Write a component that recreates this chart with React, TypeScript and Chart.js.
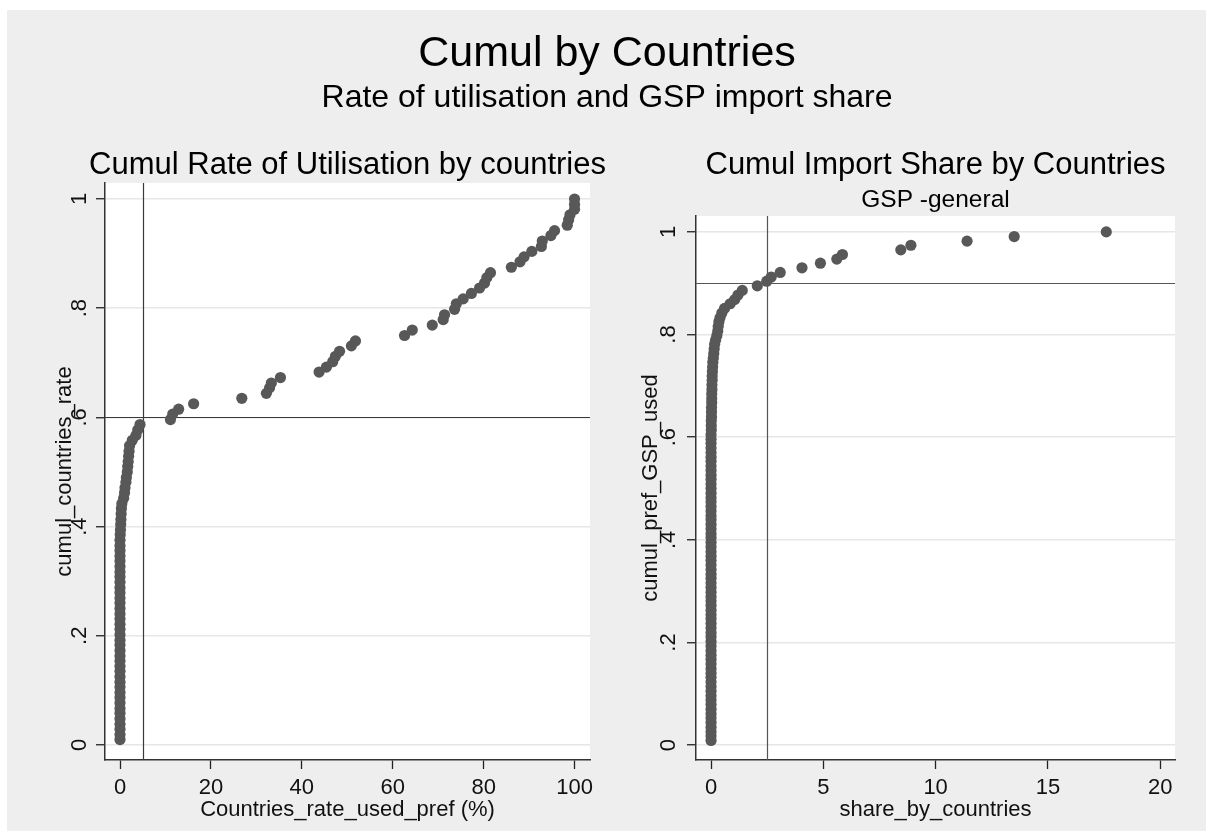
import React, { useEffect, useRef } from 'react';
import { Chart, registerables } from 'chart.js';

Chart.register(...registerables);

const W = 1213;
const H = 839;
const FONT = '"Liberation Sans", Arial, Helvetica, sans-serif';

// Countries sorted by rate of utilisation of preferences (%), with the cumulative share of countries
const rateUsed = [
  0, 0, 0, 0, 0, 0, 0, 0, 0, 0, 0, 0, 0,
  0, 0, 0, 0, 0, 0, 0, 0, 0, 0, 0, 0, 0,
  0, 0, 0, 0, 0, 0, 0, 0, 0, 0, 0, 0, 0,
  0.05, 0.1, 0.15, 0.2, 0.25, 0.3, 0.4,
  0.8, 1.0, 1.1, 1.3, 1.4, 1.6, 1.7, 1.8, 1.9, 2.0, 2.1, 2.7, 3.5, 3.9, 4.4,
  11.1, 11.6, 12.9, 16.2, 26.8, 32.2, 32.9, 33.3, 35.3, 43.8,
  45.4, 46.8, 47.4, 48.3, 50.9, 51.8, 62.6, 64.3, 68.7, 71.1,
  71.4, 73.6, 74.0, 75.5, 77.3, 79.1, 80.2, 80.7, 81.5, 86.1,
  88.0, 88.9, 90.6, 92.7, 92.9, 94.8, 95.6, 98.4, 98.7, 99.0,
  100, 100, 100,
];
const rateCumul = [
  0.010, 0.019, 0.029, 0.038, 0.048, 0.058, 0.067, 0.077, 0.087, 0.096,
  0.106, 0.115, 0.125, 0.135, 0.144, 0.154, 0.163, 0.173, 0.183, 0.192,
  0.202, 0.212, 0.221, 0.231, 0.240, 0.250, 0.260, 0.269, 0.279, 0.288,
  0.298, 0.308, 0.317, 0.327, 0.337, 0.346, 0.356, 0.365, 0.375, 0.385,
  0.394, 0.404, 0.413, 0.423, 0.433, 0.442, 0.452, 0.462, 0.471, 0.481,
  0.490, 0.500, 0.510, 0.519, 0.529, 0.538, 0.548, 0.558, 0.567, 0.577,
  0.587, 0.596, 0.606, 0.615, 0.625, 0.635, 0.644, 0.654, 0.663, 0.673,
  0.683, 0.692, 0.702, 0.712, 0.721, 0.731, 0.740, 0.750, 0.760, 0.769,
  0.779, 0.788, 0.798, 0.808, 0.817, 0.827, 0.837, 0.846, 0.856, 0.865,
  0.875, 0.885, 0.894, 0.904, 0.913, 0.923, 0.933, 0.942, 0.952, 0.962,
  0.971, 0.981, 0.990, 1.000,
];

// Countries sorted by share of GSP imports (%), with the cumulative share of preferences used
const importShare = [
  0, 0, 0, 0, 0, 0, 0, 0, 0, 0, 0, 0, 0, 0, 0, 0, 0, 0, 0, 0, 0, 0, 0,
  0, 0, 0, 0, 0, 0, 0, 0, 0, 0, 0, 0, 0, 0, 0, 0, 0, 0, 0, 0, 0, 0, 0,
  0, 0, 0, 0, 0, 0, 0, 0, 0, 0, 0, 0, 0, 0, 0, 0, 0, 0, 0, 0, 0, 0, 0,
  0.01, 0.01, 0.01, 0.02, 0.02, 0.02, 0.03, 0.03, 0.03, 0.04, 0.04, 0.05, 0.05,
  0.06, 0.07, 0.08, 0.1, 0.12, 0.14, 0.16, 0.2, 0.26, 0.3,
  0.32, 0.35, 0.4, 0.48, 0.6, 0.85, 1.05, 1.2, 1.39, 2.06,
  2.48, 2.68, 3.08, 4.05, 4.87, 5.6, 5.85, 8.45, 8.9, 11.4,
  13.5, 17.6,
];
const importCumul = [
  0.009, 0.018, 0.026, 0.035, 0.044, 0.053, 0.061, 0.070, 0.079, 0.088,
  0.096, 0.105, 0.114, 0.123, 0.132, 0.140, 0.149, 0.158, 0.167, 0.175,
  0.184, 0.193, 0.202, 0.211, 0.219, 0.228, 0.237, 0.246, 0.254, 0.263,
  0.272, 0.281, 0.289, 0.298, 0.307, 0.316, 0.325, 0.333, 0.342, 0.351,
  0.360, 0.368, 0.377, 0.386, 0.395, 0.404, 0.412, 0.421, 0.430, 0.439,
  0.447, 0.456, 0.465, 0.474, 0.482, 0.491, 0.500, 0.509, 0.518, 0.526,
  0.535, 0.544, 0.553, 0.561, 0.570, 0.579, 0.588, 0.596, 0.605, 0.614,
  0.623, 0.632, 0.640, 0.649, 0.658, 0.667, 0.675, 0.684, 0.693, 0.702,
  0.711, 0.719, 0.728, 0.737, 0.746, 0.754, 0.763, 0.772, 0.781, 0.789,
  0.798, 0.807, 0.816, 0.825, 0.833, 0.842, 0.851, 0.860, 0.868, 0.877,
  0.886, 0.895, 0.904, 0.912, 0.921, 0.930, 0.939, 0.947, 0.956, 0.965,
  0.974, 0.982, 0.991, 1.000,
];

// Axis ticks and reference lines
const rateXTicks = [0, 20, 40, 60, 80, 100];
const shareXTicks = [0, 5, 10, 15, 20];
const cumulYTicks = [0, 0.2, 0.4, 0.6, 0.8, 1];
const cumulYLabels = ['0', '.2', '.4', '.6', '.8', '1'];
const rateRefLines = { x: 5, y: 0.6 };
const shareRefLines = { x: 2.5, y: 0.9 };

const mainTitle = 'Cumul by Countries';
const mainSubtitle = 'Rate of utilisation and GSP import share';

type PanelSpec = {
  xs: number[];
  ys: number[];
  xTicks: number[];
  xMin: number;
  xMax: number;
  yMin: number;
  yMax: number;
  padding: { left: number; top: number; right: number; bottom: number };
  yAxisWidth: number;
  yTitlePad: number;
  yTickPad: number;
  xTitle: string;
  yTitle: string;
  title: string;
  subtitle?: string;
  refs: { x: number; y: number };
  refColor: string;
  drawMainTitle?: boolean;
};

function drawText(ctx: CanvasRenderingContext2D, text: string, x: number, y: number, size: number) {
  ctx.save();
  ctx.font = `${size}px ${FONT}`;
  ctx.fillStyle = '#000';
  ctx.textAlign = 'center';
  ctx.textBaseline = 'middle';
  ctx.fillText(text, x, y);
  ctx.restore();
}

function buildPanel(spec: PanelSpec): any {
  const decor = {
    id: 'panelDecor',
    beforeDraw(chart: any) {
      const { ctx, chartArea: a } = chart;
      ctx.save();
      ctx.fillStyle = '#ffffff';
      ctx.fillRect(a.left, a.top, a.right - a.left, a.bottom - a.top);
      ctx.restore();
    },
    beforeDatasetsDraw(chart: any) {
      const { ctx, chartArea: a, scales } = chart;
      const px = Math.round(scales.x.getPixelForValue(spec.refs.x)) + 0.5;
      const py = Math.round(scales.y.getPixelForValue(spec.refs.y)) + 0.5;
      ctx.save();
      ctx.strokeStyle = spec.refColor;
      ctx.lineWidth = 1.2;
      ctx.beginPath();
      ctx.moveTo(px, a.top);
      ctx.lineTo(px, a.bottom);
      ctx.moveTo(a.left, py);
      ctx.lineTo(a.right, py);
      ctx.stroke();
      ctx.restore();
    },
    afterDraw(chart: any) {
      const { ctx, chartArea: a } = chart;
      const cx = (a.left + a.right) / 2;
      drawText(ctx, spec.title, cx, 165.5, 31);
      if (spec.subtitle) drawText(ctx, spec.subtitle, cx, 200.5, 24.5);
      if (spec.drawMainTitle) {
        drawText(ctx, mainTitle, 607, 54, 43);
        drawText(ctx, mainSubtitle, 607, 98, 32);
      }
    },
  };

  const tickFont = { family: FONT, size: 22 };
  const titleFont = { family: FONT, size: 22 };

  return {
    type: 'scatter',
    data: {
      datasets: [
        {
          data: spec.xs.map((x, i) => ({ x, y: spec.ys[i] })),
          pointRadius: 5.6,
          pointBackgroundColor: '#585858',
          pointBorderWidth: 0,
          pointBorderColor: '#585858',
          showLine: false,
        },
      ],
    },
    options: {
      responsive: false,
      devicePixelRatio: 1,
      animation: false,
      events: [],
      layout: { padding: spec.padding },
      plugins: {
        legend: { display: false },
        tooltip: { enabled: false },
        title: { display: false },
      },
      scales: {
        x: {
          type: 'linear',
          min: spec.xMin,
          max: spec.xMax,
          afterBuildTicks: (s: any) => {
            s.ticks = spec.xTicks.map((v) => ({ value: v }));
          },
          afterFit: (s: any) => {
            s.height = 79;
          },
          grid: {
            drawOnChartArea: false,
            drawTicks: true,
            tickLength: 9,
            tickColor: '#222',
            tickWidth: 1.3,
          },
          border: { display: true, color: '#333', width: 1.5 },
          ticks: {
            font: tickFont,
            color: '#111',
            padding: 6,
            minRotation: 0,
            maxRotation: 0,
            autoSkip: false,
            callback: (_v: any, i: number) => String(spec.xTicks[i]),
          },
          title: {
            display: true,
            text: spec.xTitle,
            font: titleFont,
            color: '#111',
            padding: { top: 0, bottom: 16 },
          },
        },
        y: {
          type: 'linear',
          min: spec.yMin,
          max: spec.yMax,
          afterBuildTicks: (s: any) => {
            s.ticks = cumulYTicks.map((v) => ({ value: v }));
          },
          afterFit: (s: any) => {
            s.width = spec.yAxisWidth;
          },
          grid: {
            color: '#e6e6e6',
            lineWidth: 1.5,
            drawTicks: true,
            tickLength: 9,
            tickColor: '#222',
            tickWidth: 1.3,
          },
          border: { display: true, color: '#333', width: 1.5 },
          ticks: {
            font: tickFont,
            color: '#111',
            padding: spec.yTickPad,
            minRotation: 90,
            maxRotation: 90,
            crossAlign: 'center',
            autoSkip: false,
            callback: (_v: any, i: number) => cumulYLabels[i],
          },
          title: {
            display: true,
            text: spec.yTitle,
            font: titleFont,
            color: '#111',
            padding: { top: spec.yTitlePad, bottom: 0 },
          },
        },
      },
    },
    plugins: [decor],
  };
}

export default function App() {
  const leftRef = useRef<HTMLCanvasElement>(null);
  const rightRef = useRef<HTMLCanvasElement>(null);

  useEffect(() => {
    const left = new Chart(
      leftRef.current as HTMLCanvasElement,
      buildPanel({
        xs: rateUsed,
        ys: rateCumul,
        xTicks: rateXTicks,
        xMin: -3.3,
        xMax: 103.4,
        yMin: -0.0275,
        yMax: 1.0293,
        padding: { left: 0, top: 183, right: W - 590, bottom: 0 },
        yAxisWidth: 105,
        yTitlePad: 51.8,
        yTickPad: 7,
        xTitle: 'Countries_rate_used_pref (%)',
        yTitle: 'cumul_countries_rate',
        title: 'Cumul Rate of Utilisation by countries',
        refs: rateRefLines,
        refColor: '#3a3a3a',
        drawMainTitle: true,
      })
    );
    const right = new Chart(
      rightRef.current as HTMLCanvasElement,
      buildPanel({
        xs: importShare,
        ys: importCumul,
        xTicks: shareXTicks,
        xMin: -0.67,
        xMax: 20.66,
        yMin: -0.029,
        yMax: 1.031,
        padding: { left: 606, top: 216, right: W - 1175, bottom: 0 },
        yAxisWidth: 90,
        yTitlePad: 31.6,
        yTickPad: 8.5,
        xTitle: 'share_by_countries',
        yTitle: 'cumul_pref_GSP_used',
        title: 'Cumul Import Share by Countries',
        subtitle: 'GSP -general',
        refs: shareRefLines,
        refColor: '#555555',
      })
    );
    return () => {
      left.destroy();
      right.destroy();
    };
  }, []);

  const canvasStyle: React.CSSProperties = {
    position: 'absolute',
    left: 0,
    top: 0,
    width: W,
    height: H,
  };

  return (
    <div
      style={{
        position: 'fixed',
        left: 0,
        top: 0,
        width: W,
        height: H,
        background: '#ffffff',
        overflow: 'hidden',
      }}
    >
      <div
        style={{
          position: 'absolute',
          left: 7,
          top: 10,
          width: 1199,
          height: 821,
          background: '#eeeeee',
        }}
      />
      <canvas ref={leftRef} width={W} height={H} style={canvasStyle} />
      <canvas ref={rightRef} width={W} height={H} style={canvasStyle} />
    </div>
  );
}
